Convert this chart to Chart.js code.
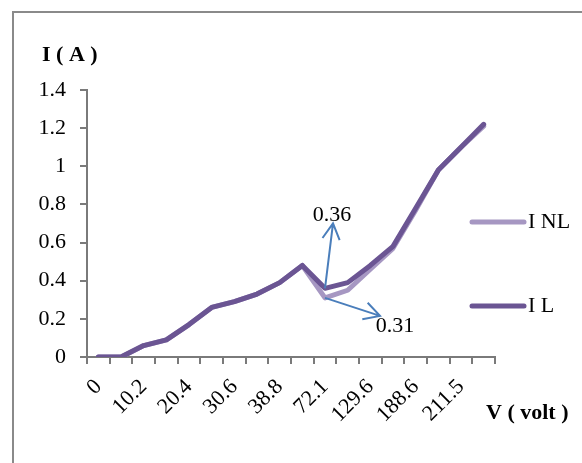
<!DOCTYPE html>
<html>
<head>
<meta charset="utf-8">
<script src="https://cdn.jsdelivr.net/npm/chart.js@4"></script>
<style>
  body { margin: 0; background: #fff; }
  #wrap { position: relative; width: 582px; height: 463px; }
</style>
</head>
<body>
<div id="wrap"><canvas id="iv" width="582" height="463"></canvas></div>
<script>
// voltage steps (V) and measured currents (A)
var volts = ['0', '5.1', '10.2', '15.3', '20.4', '25.5', '30.6', '34.7', '38.8', '55', '72.1', '100', '129.6', '160', '188.6', '200', '211.5', '220'];
var iNL = [0, 0, 0.06, 0.09, 0.17, 0.26, 0.29, 0.33, 0.39, 0.48, 0.31, 0.35, 0.46, 0.57, 0.77, 0.98, 1.10, 1.21];
var iL = [0, 0, 0.06, 0.09, 0.17, 0.26, 0.29, 0.33, 0.39, 0.48, 0.36, 0.39, 0.48, 0.58, 0.78, 0.98, 1.10, 1.22];
var yTicks = [0, 0.2, 0.4, 0.6, 0.8, 1, 1.2, 1.4];

var serif = '"Liberation Serif", "Times New Roman", serif';
var axisGray = '#7a7a7a';
var arrowBlue = '#4a7ebb';

function arrow(ctx, x0, y0, x1, y1) {
    var a = Math.atan2(y1 - y0, x1 - x0);
    var len = 18, spread = 0.5;
    ctx.beginPath();
    ctx.moveTo(x0, y0);
    ctx.lineTo(x1, y1);
    ctx.moveTo(x1 - len * Math.cos(a - spread), y1 - len * Math.sin(a - spread));
    ctx.lineTo(x1, y1);
    ctx.lineTo(x1 - len * Math.cos(a + spread), y1 - len * Math.sin(a + spread));
    ctx.stroke();
}

var extras = {
    id: 'extras',
    beforeDraw: function(chart) {
        var ctx = chart.ctx;
        // outer frame
        ctx.save();
        ctx.strokeStyle = '#8a8a8a';
        ctx.lineWidth = 2;
        ctx.beginPath();
        ctx.moveTo(13, 463);
        ctx.lineTo(13, 12);
        ctx.lineTo(582, 12);
        ctx.stroke();
        ctx.restore();
    },
    afterDraw: function(chart) {
        var ctx = chart.ctx;
        var x = chart.scales.x, y = chart.scales.y;
        ctx.save();

        // axis titles
        ctx.fillStyle = '#000';
        ctx.font = 'bold 22px ' + serif;
        ctx.textBaseline = 'middle';
        ctx.textAlign = 'left';
        ctx.fillText('I ( A )', 42, 55);
        ctx.fillText('V ( volt )', 486, 413);

        // legend
        var items = [[chart.data.datasets[0], 222], [chart.data.datasets[1], 306]];
        ctx.lineCap = 'round';
        ctx.font = '22px ' + serif;
        items.forEach(function(it) {
            ctx.strokeStyle = it[0].borderColor;
            ctx.lineWidth = 5;
            ctx.beginPath();
            ctx.moveTo(472, it[1]);
            ctx.lineTo(524, it[1]);
            ctx.stroke();
            ctx.fillText(it[0].label, 528, it[1]);
        });

        // value callouts at 72.1 V
        var k = volts.indexOf('72.1');
        var px = x.getPixelForValue(k);
        var pL = y.getPixelForValue(iL[k]);
        var pNL = y.getPixelForValue(iNL[k]);
        ctx.strokeStyle = arrowBlue;
        ctx.lineWidth = 2;
        ctx.lineCap = 'butt';
        arrow(ctx, px, pL, px + 8, pL - 65);
        arrow(ctx, px, pNL, px + 55, pNL + 18);
        ctx.textAlign = 'center';
        ctx.fillStyle = '#000';
        ctx.fillText(iL[k].toFixed(2), px + 7, pL - 73);
        ctx.fillText(iNL[k].toFixed(2), px + 70, pNL + 28);
        ctx.restore();
    }
};

var chart = new Chart(document.getElementById('iv').getContext('2d'), {
    type: 'line',
    data: {
        labels: volts,
        datasets: [{
            label: 'I NL',
            data: iNL,
            borderColor: '#a697c2',
            borderWidth: 5,
            pointRadius: 0,
            order: 2
        }, {
            label: 'I L',
            data: iL,
            borderColor: '#6b5593',
            borderWidth: 5,
            pointRadius: 0,
            order: 1
        }]
    },
    options: {
        responsive: false,
        animation: false,
        devicePixelRatio: 1,
        layout: { padding: { left: 0, top: 90, right: 87, bottom: 0 } },
        plugins: { legend: { display: false }, tooltip: { enabled: false } },
        elements: { line: { tension: 0, borderJoinStyle: 'round', borderCapStyle: 'round' } },
        scales: {
            x: {
                offset: true,
                grid: { offset: true, drawOnChartArea: false, color: axisGray, lineWidth: 2, tickLength: 7 },
                border: { color: axisGray, width: 2 },
                ticks: {
                    autoSkip: false,
                    minRotation: 45,
                    maxRotation: 45,
                    padding: 10,
                    color: '#000',
                    font: { family: serif, size: 22 },
                    callback: function(v, i) { return i % 2 === 0 ? volts[i] : ''; }
                },
                afterFit: function(s) { s.height = 106; }
            },
            y: {
                min: 0,
                max: 1.4,
                afterBuildTicks: function(s) { s.ticks = yTicks.map(function(v) { return { value: v }; }); },
                grid: { drawOnChartArea: false, color: axisGray, lineWidth: 2, tickLength: 7 },
                border: { color: axisGray, width: 2 },
                ticks: {
                    padding: 14,
                    color: '#000',
                    font: { family: serif, size: 22 },
                    callback: function(v) { return String(Math.round(v * 10) / 10); }
                },
                afterFit: function(s) { s.width = 87; }
            }
        }
    },
    plugins: [extras]
});
</script>
</body>
</html>
